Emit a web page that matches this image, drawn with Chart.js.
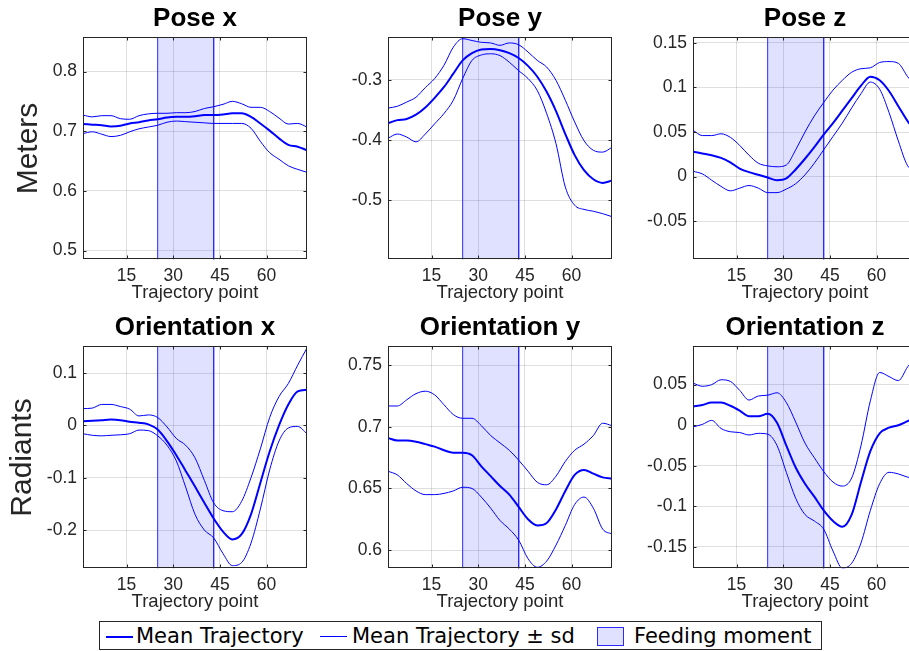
<!DOCTYPE html>
<html>
<head>
<meta charset="utf-8">
<script src="https://cdn.jsdelivr.net/npm/chart.js@4.4.1/dist/chart.umd.min.js"></script>
<style>
  html, body { margin: 0; padding: 0; background: #fff; }
  body { width: 909px; height: 651px; overflow: hidden; position: relative; }
  .panel { position: absolute; width: 310px; height: 311px; }
  #legend { position: absolute; left: 99px; top: 621px; width: 721px; height: 27px;
    border: 1px solid #262626; background: #fff; font-family: "DejaVu Sans", sans-serif; font-size: 21px; color: #000; }
  #legend span.t { position: absolute; top: 2px; line-height: 24px; white-space: nowrap; }
  #legend .ln { position: absolute; background: #0000ff; }
  #legend .patch { position: absolute; left: 497px; top: 5px; width: 25px; height: 17px;
    background: #e0e0ff; border: 1px solid #2a2aff; }
</style>
</head>
<body>
<div class="panel" style="left:0px;top:0px"><canvas id="c0" width="310" height="311"></canvas></div>
<div class="panel" style="left:305px;top:0px"><canvas id="c1" width="310" height="311"></canvas></div>
<div class="panel" style="left:610px;top:0px"><canvas id="c2" width="310" height="311"></canvas></div>
<div class="panel" style="left:0px;top:309px"><canvas id="c3" width="310" height="311"></canvas></div>
<div class="panel" style="left:305px;top:309px"><canvas id="c4" width="310" height="311"></canvas></div>
<div class="panel" style="left:610px;top:309px"><canvas id="c5" width="310" height="311"></canvas></div>

<div id="legend">
  <div class="ln" style="left:6px;top:14px;width:27px;height:2px"></div>
  <span class="t" style="left:36px">Mean Trajectory</span>
  <div class="ln" style="left:220px;top:14px;width:27px;height:1px"></div>
  <span class="t" style="left:252px">Mean Trajectory ± sd</span>
  <div class="patch"></div>
  <span class="t" style="left:534px">Feeding moment</span>
</div>

<script>
// trajectory sample points
const xPoints = [1, 4, 7, 10, 13, 16, 19, 22, 25, 28, 31, 34, 37, 40, 43, 46, 49, 52, 55, 58, 61, 64, 67, 70, 73];
const xTicks = [15, 30, 45, 60];
const feeding = [25, 43];

// Pose x
const poseXMean  = [0.712, 0.711, 0.710, 0.708, 0.709, 0.713, 0.715, 0.718, 0.720, 0.723, 0.724, 0.724, 0.725, 0.727, 0.727, 0.728, 0.730, 0.730, 0.724, 0.713, 0.701, 0.688, 0.677, 0.674, 0.668];
const poseXUpper = [0.727, 0.724, 0.726, 0.726, 0.721, 0.720, 0.726, 0.729, 0.730, 0.730, 0.731, 0.731, 0.733, 0.738, 0.741, 0.745, 0.750, 0.746, 0.740, 0.740, 0.733, 0.722, 0.712, 0.713, 0.707];
const poseXLower = [0.696, 0.699, 0.695, 0.691, 0.693, 0.699, 0.704, 0.707, 0.710, 0.715, 0.717, 0.716, 0.715, 0.714, 0.713, 0.713, 0.713, 0.713, 0.705, 0.683, 0.664, 0.653, 0.642, 0.636, 0.631];

// Pose y
const poseYMean  = [-0.372, -0.367, -0.365, -0.358, -0.346, -0.330, -0.312, -0.290, -0.268, -0.256, -0.250, -0.249, -0.251, -0.256, -0.264, -0.277, -0.295, -0.320, -0.352, -0.390, -0.425, -0.450, -0.465, -0.471, -0.467];
const poseYUpper = [-0.347, -0.344, -0.337, -0.329, -0.313, -0.298, -0.276, -0.246, -0.232, -0.235, -0.238, -0.239, -0.243, -0.239, -0.242, -0.254, -0.268, -0.279, -0.301, -0.334, -0.370, -0.401, -0.417, -0.420, -0.412];
const poseYLower = [-0.397, -0.390, -0.395, -0.403, -0.390, -0.373, -0.356, -0.334, -0.298, -0.268, -0.259, -0.257, -0.260, -0.271, -0.285, -0.298, -0.318, -0.356, -0.406, -0.478, -0.508, -0.515, -0.518, -0.522, -0.527];

// Pose z
const poseZMean  = [0.028, 0.026, 0.024, 0.021, 0.016, 0.009, 0.005, 0.002, -0.001, -0.004, -0.002, 0.008, 0.020, 0.033, 0.047, 0.060, 0.074, 0.088, 0.102, 0.112, 0.108, 0.096, 0.079, 0.062, 0.048];
const poseZUpper = [0.052, 0.046, 0.046, 0.048, 0.044, 0.035, 0.024, 0.015, 0.012, 0.011, 0.013, 0.030, 0.050, 0.068, 0.083, 0.097, 0.108, 0.117, 0.121, 0.122, 0.128, 0.129, 0.127, 0.112, 0.100];
const poseZLower = [0.006, 0.003, -0.004, -0.011, -0.016, -0.013, -0.010, -0.013, -0.018, -0.018, -0.014, -0.008, 0.002, 0.015, 0.030, 0.045, 0.060, 0.077, 0.093, 0.106, 0.098, 0.072, 0.040, 0.012, 0.006];

// Orientation x
const oriXMean  = [0.008, 0.009, 0.010, 0.011, 0.010, 0.007, 0.005, 0.002, -0.008, -0.030, -0.057, -0.087, -0.117, -0.148, -0.178, -0.203, -0.218, -0.208, -0.170, -0.110, -0.050, 0.000, 0.040, 0.065, 0.068];
const oriXUpper = [0.032, 0.033, 0.040, 0.040, 0.036, 0.031, 0.018, 0.020, 0.015, -0.003, -0.025, -0.038, -0.062, -0.105, -0.148, -0.163, -0.165, -0.145, -0.100, -0.045, 0.015, 0.055, 0.080, 0.115, 0.148];
const oriXLower = [-0.016, -0.019, -0.020, -0.019, -0.018, -0.016, -0.009, -0.010, -0.020, -0.038, -0.068, -0.118, -0.170, -0.200, -0.215, -0.245, -0.268, -0.262, -0.225, -0.160, -0.085, -0.030, -0.005, -0.002, -0.016];

// Orientation y
const oriYMean  = [0.691, 0.689, 0.689, 0.688, 0.686, 0.684, 0.681, 0.679, 0.679, 0.677, 0.668, 0.660, 0.652, 0.645, 0.635, 0.625, 0.620, 0.622, 0.633, 0.648, 0.661, 0.665, 0.662, 0.659, 0.658];
const oriYUpper = [0.717, 0.717, 0.722, 0.727, 0.729, 0.726, 0.718, 0.710, 0.707, 0.707, 0.701, 0.693, 0.687, 0.681, 0.673, 0.664, 0.655, 0.653, 0.660, 0.672, 0.681, 0.686, 0.693, 0.703, 0.701];
const oriYLower = [0.664, 0.661, 0.654, 0.648, 0.645, 0.645, 0.646, 0.648, 0.651, 0.650, 0.643, 0.634, 0.624, 0.617, 0.608, 0.593, 0.586, 0.591, 0.604, 0.620, 0.637, 0.643, 0.634, 0.617, 0.613];

// Orientation z
const oriZMean  = [0.023, 0.025, 0.028, 0.028, 0.024, 0.018, 0.011, 0.011, 0.014, 0.003, -0.025, -0.052, -0.072, -0.088, -0.105, -0.118, -0.125, -0.110, -0.070, -0.032, -0.010, -0.003, 0.000, 0.005, 0.010];
const oriZUpper = [0.052, 0.048, 0.050, 0.056, 0.054, 0.043, 0.031, 0.036, 0.037, 0.040, 0.028, 0.004, -0.022, -0.040, -0.057, -0.070, -0.075, -0.065, -0.025, 0.030, 0.065, 0.060, 0.055, 0.072, 0.085];
const oriZLower = [-0.002, 0.001, 0.006, -0.004, -0.008, -0.009, -0.012, -0.010, -0.011, -0.025, -0.058, -0.090, -0.110, -0.118, -0.128, -0.155, -0.176, -0.170, -0.145, -0.105, -0.072, -0.058, -0.060, -0.064, -0.066];

const FONT = "'Liberation Sans', Arial, Helvetica, sans-serif";
const AXIS = '#262626';
const GRID = 'rgba(38,38,38,0.15)';
const BLUE = '#0000ff';

function pts(values) {
  return xPoints.map((x, i) => ({ x: x, y: values[i] }));
}

// box around the axes with inward tick marks
const framePlugin = {
  id: 'frame',
  afterDatasetsDraw(chart) {
    const { ctx, chartArea: a, scales } = chart;
    const l = Math.floor(a.left) + 0.5, r = Math.floor(a.right) - 0.5;
    const t = Math.floor(a.top) + 0.5, b = Math.floor(a.bottom) - 0.5;
    ctx.save();
    ctx.strokeStyle = AXIS;
    ctx.lineWidth = 1;
    ctx.strokeRect(l, t, r - l, b - t);
    ctx.beginPath();
    scales.x.ticks.forEach(tk => {
      const px = Math.round(scales.x.getPixelForValue(tk.value)) + 0.5;
      ctx.moveTo(px, b); ctx.lineTo(px, b - 3);
      ctx.moveTo(px, t); ctx.lineTo(px, t + 3);
    });
    scales.y.ticks.forEach(tk => {
      const py = Math.round(scales.y.getPixelForValue(tk.value)) + 0.5;
      ctx.moveTo(l, py); ctx.lineTo(l + 3, py);
      ctx.moveTo(r, py); ctx.lineTo(r - 3, py);
    });
    ctx.stroke();
    ctx.restore();
  }
};

function makePanel(id, title, yTitle, yTitlePad, mean, upper, lower, yMin, yMax, yTicks) {
  const line = (label, data, w) => ({
    label: label, data: pts(data), borderColor: BLUE, borderWidth: w,
    pointRadius: 0, fill: false, cubicInterpolationMode: 'monotone'
  });
  new Chart(document.getElementById(id), {
    type: 'line',
    data: {
      datasets: [
        line('Mean Trajectory', mean, 2),
        line('Mean Trajectory + sd', upper, 1),
        line('Mean Trajectory - sd', lower, 1),
        {
          label: 'Feeding moment',
          data: [{ x: feeding[0], y: yMin }, { x: feeding[0], y: yMax }, { x: feeding[1], y: yMax }, { x: feeding[1], y: yMin }],
          borderColor: '#2a2aff', borderWidth: 1, backgroundColor: 'rgba(0,0,255,0.12)',
          fill: 'start', tension: 0, pointRadius: 0
        }
      ]
    },
    options: {
      responsive: false,
      animation: false,
      layout: { padding: { left: 0, right: 3, top: 0, bottom: 0 } },
      plugins: {
        legend: { display: false },
        tooltip: { enabled: false },
        title: {
          display: true, text: title, fullSize: false, color: '#000',
          font: { family: FONT, size: 26, weight: 'bold' },
          padding: { top: 3.7, bottom: 2.6 }
        }
      },
      scales: {
        x: {
          type: 'linear', min: 1, max: 73,
          afterBuildTicks: s => { s.ticks = xTicks.map(v => ({ value: v })); },
          afterFit: s => { s.height = 51.5; s.paddingLeft = 0; s.paddingRight = 0; },
          grid: { color: GRID, drawTicks: false, tickLength: 0 },
          border: { display: false },
          ticks: { padding: 6.5, color: AXIS, font: { family: FONT, size: 17.5 }, maxRotation: 0, autoSkip: false,
                   callback: v => String(v) },
          title: { display: true, text: 'Trajectory point', color: AXIS, font: { family: FONT, size: 18.5 },
                   padding: { top: 0, bottom: 6.5 } }
        },
        y: {
          type: 'linear', min: yMin, max: yMax,
          afterBuildTicks: s => { s.ticks = yTicks.map(v => ({ value: v })); },
          afterFit: s => { s.width = 83; s.paddingTop = 0; s.paddingBottom = 0; },
          grid: { color: GRID, drawTicks: false, tickLength: 0 },
          border: { display: false },
          ticks: { padding: 6, color: AXIS, font: { family: FONT, size: 17.5 },
                   callback: v => String(Math.round(v * 1000) / 1000) },
          title: { display: !!yTitle, text: yTitle, color: AXIS, font: { family: FONT, size: 30 },
                   padding: { top: yTitlePad, bottom: 0 } }
        }
      }
    },
    plugins: [framePlugin]
  });
}

makePanel('c0', 'Pose x', 'Meters', 10.6, poseXMean, poseXUpper, poseXLower, 0.485, 0.857, [0.5, 0.6, 0.7, 0.8]);
makePanel('c1', 'Pose y', '', 0, poseYMean, poseYUpper, poseYLower, -0.598, -0.230, [-0.5, -0.4, -0.3]);
makePanel('c2', 'Pose z', '', 0, poseZMean, poseZUpper, poseZLower, -0.093, 0.156, [-0.05, 0, 0.05, 0.1, 0.15]);
makePanel('c3', 'Orientation x', 'Radiants', 4.6, oriXMean, oriXUpper, oriXLower, -0.2735, 0.1507, [-0.2, -0.1, 0, 0.1]);
makePanel('c4', 'Orientation y', '', 0, oriYMean, oriYUpper, oriYLower, 0.585, 0.7653, [0.6, 0.65, 0.7, 0.75]);
makePanel('c5', 'Orientation z', '', 0, oriZMean, oriZUpper, oriZLower, -0.1765, 0.097, [-0.15, -0.1, -0.05, 0, 0.05]);
</script>
</body>
</html>
